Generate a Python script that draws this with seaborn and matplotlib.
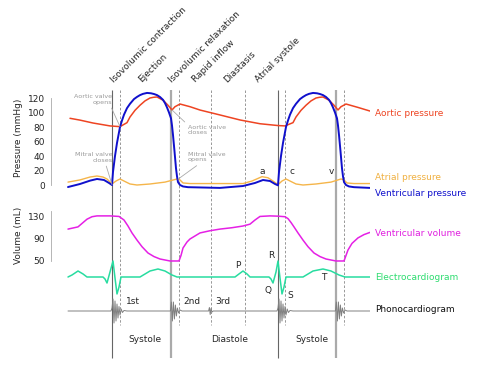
import matplotlib
matplotlib.use("Agg")
import matplotlib.pyplot as plt
import seaborn as sns

# ---- data (time in ms, one heart cycle ~830 ms) ----
aortic_t = [10, 60, 125, 210, 260, 295, 310, 335, 360, 385, 410, 428, 445, 475,
            500, 520, 535, 560, 610, 660, 760, 860, 960, 1050, 1085, 1125, 1140,
            1165, 1190, 1215, 1240, 1258, 1275, 1305, 1330, 1350, 1365, 1390, 1450, 1510]
aortic_p = [92, 89.5, 85.5, 81.5, 80.5, 86, 93.8, 103, 110, 116, 120, 121, 121.4, 117,
            110, 103.5, 108, 111.7, 108, 103.4, 96.6, 89.7, 84.5, 82, 81.5, 86, 93.8,
            103, 110, 116, 120, 121, 121.4, 117, 110, 103.5, 108, 111.7, 107, 102]

ventr_t = [0, 60, 110, 145, 180, 205, 220, 225, 235, 245, 260, 270, 280, 295, 310,
           330, 345, 360, 375, 395, 415, 430, 445, 460, 475, 485, 495, 505, 515, 520,
           525, 532, 540, 545, 550, 560, 575, 600, 760, 875, 935, 975, 1010, 1035, 1050,
           1055, 1065, 1075, 1090, 1100, 1110, 1125, 1140, 1160, 1175, 1190, 1205, 1225,
           1245, 1260, 1275, 1290, 1305, 1315, 1325, 1335, 1345, 1350, 1355, 1362, 1370,
           1375, 1380, 1390, 1405, 1430, 1510]
ventr_p = [-2.8, 1.4, 6, 8.3, 6.9, 2.8, 0, 18, 40, 58, 80, 89, 97, 106, 112,
           118.5, 121.5, 124, 125.7, 127, 126.5, 125.5, 124, 121.4, 117.5, 113, 107, 100, 92, 82,
           69, 48, 23, 12, 4, 0, -2, -3, -4, -1.4, 2.8, 6.9, 5.5, 1.4, -0.5,
           18, 40, 58, 80, 89, 97, 106, 112, 118.5, 121.5, 124, 125.7, 127,
           126.5, 125.5, 124, 121.4, 117.5, 113, 107, 100, 92, 82, 69, 48, 23,
           12, 4, 0, -2, -3, -4]

atrial_t = [0, 60, 110, 145, 175, 195, 220, 240, 260, 280, 310, 345, 410, 485, 545,
            560, 575, 610, 875, 920, 970, 1000, 1025, 1050, 1070, 1090, 1110, 1140,
            1175, 1240, 1315, 1365, 1380, 1395, 1430, 1510]
atrial_p = [4, 7, 11, 12.4, 11, 8.3, 1.4, 5.5, 8.3, 5.5, 1.4, 0, 1.4, 4, 8.3,
            7, 2.8, 2, 2, 5.5, 11.5, 10, 5.5, 0.5, 5.5, 8.3, 5.5, 1.4,
            0, 1.4, 4, 8.3, 7, 2.8, 2, 2]

volume_t = [0, 50, 95, 120, 145, 210, 255, 280, 300, 320, 345, 370, 400, 430, 460,
            510, 555, 565, 575, 595, 610, 660, 710, 760, 820, 875, 910, 935, 960, 1010,
            1050, 1085, 1100, 1115, 1130, 1150, 1175, 1200, 1230, 1260, 1290, 1340, 1380,
            1390, 1400, 1420, 1450, 1480, 1510]
volume_ml = [108, 112, 126, 130.5, 132, 132, 131, 124.5, 113.6, 101, 88, 76, 64.5, 58, 53.6,
             50, 50, 60, 73.6, 84.5, 90, 101, 105, 108, 110.5, 113.6, 117, 124.5, 131, 132,
             131.5, 130.5, 127, 120, 112, 101, 88, 76, 64.5, 58, 53.6, 50, 50,
             60, 70, 82, 92, 98, 102]

ecg_t = [0, 20, 50, 75, 95, 175, 185, 195, 210, 225, 235, 245, 255, 265, 360, 410,
         450, 485, 520, 545, 835, 855, 875, 895, 910, 1005, 1015, 1025, 1040, 1050,
         1060, 1070, 1080, 1090, 1175, 1225, 1275, 1315, 1355, 1385, 1510]
ecg_mv = [0, 0.125, 0.375, 0.19, 0, 0, -0.125, -0.375, 0.31, 1.0, -0.06, -1.06, -0.625, 0, 0, 0.375,
          0.5, 0.375, 0.125, 0, 0, 0.19, 0.375, 0.19, 0, 0, -0.125, -0.375, 0.31, 1.0,
          -0.06, -1.06, -0.625, 0, 0, 0.375, 0.5, 0.375, 0.125, 0, 0]

phono_t = [0, 215, 220, 225, 230, 235, 240, 245, 250, 255, 260, 266, 272, 280, 295,
           512, 517, 522, 527, 532, 537, 542, 547, 553, 560, 570,
           703, 707, 711, 715, 720, 726,
           1045, 1050, 1055, 1060, 1065, 1070, 1075, 1080, 1085, 1090, 1096, 1102, 1110, 1125,
           1337, 1342, 1347, 1352, 1357, 1362, 1367, 1372, 1378, 1385, 1395, 1510]
phono_a = [0, 0, 0.3, 1.2, -1.2, 1.0, -1.0, 0.7, -0.7, 0.45, -0.4, 0.2, -0.15, 0.05, 0,
           0, 0.9, -1.0, 0.9, -0.8, 0.6, -0.5, 0.3, -0.2, 0.1, 0,
           0, 0.35, -0.35, 0.25, -0.1, 0,
           0, 0.3, 1.2, -1.2, 1.0, -1.0, 0.7, -0.7, 0.45, -0.4, 0.2, -0.15, 0.05, 0,
           0, 0.9, -1.0, 0.9, -0.8, 0.6, -0.5, 0.3, -0.2, 0.1, 0, 0]

solid_events = [220, 515, 1050, 1340]
dashed_events = [260, 555, 715, 885, 1085, 1380]
phases = ["Isovolumic contraction", "Ejection", "Isovolumic relaxation",
          "Rapid inflow", "Diastasis", "Atrial systole"]
phase_t = [235, 378, 528, 643, 803, 958]

# ---- layout ----
sns.set_style("white")
plt.rcParams["font.family"] = ["DejaVu Sans"]
W, H = 480, 368
x0, x1 = 51, 370
tlim = (-85, 1510)
fs = 6.5

fig = plt.figure(figsize=(4.8, 3.68), dpi=100)

def box(ytop, ybot):
    return [x0 / W, 1 - ybot / H, (x1 - x0) / W, (ybot - ytop) / H]

ax_bg = fig.add_axes([x0 / W, 0, (x1 - x0) / W, 1], zorder=0)
ax_bg.set_xlim(tlim)
ax_bg.set_ylim(H, 0)
ax_bg.axis("off")

ax_p = fig.add_axes(box(80, 195), zorder=2)
ax_v = fig.add_axes(box(200, 270), zorder=2)
ax_e = fig.add_axes(box(250, 300), zorder=2)
ax_s = fig.add_axes(box(290, 332), zorder=2)
for a in (ax_p, ax_v, ax_e, ax_s):
    a.set_xlim(tlim)
    a.patch.set_visible(False)
    a.set_xticks([])
    for s in ("top", "right", "bottom"):
        a.spines[s].set_visible(False)
for a in (ax_e, ax_s):
    a.spines["left"].set_visible(False)
    a.set_yticks([])

ax_p.set_ylim(-13.79, 144.83)
ax_v.set_ylim(33.6, 160.9)
ax_e.set_ylim(-1.4375, 1.6875)
ax_s.set_ylim(-2.1, 2.1)

# event lines
ax_bg.vlines(solid_events[:1] + solid_events[2:3], 90, 358, color="#666666", lw=0.8)
ax_bg.vlines(solid_events[1:2] + solid_events[3:], 90, 358, color="#aaaaaa", lw=1.6)
ax_bg.vlines(dashed_events, 90, 325, color="#888888", lw=0.6, linestyles=(0, (3, 2.2)))

# curves
kw = dict(estimator=None, sort=False, legend=False)
sns.lineplot(x=aortic_t, y=aortic_p, ax=ax_p, color="#ee4422", lw=1.1, **kw)
sns.lineplot(x=atrial_t, y=atrial_p, ax=ax_p, color="#f5b54a", lw=1.0, **kw)
sns.lineplot(x=ventr_t, y=ventr_p, ax=ax_p, color="#1010cc", lw=1.4, **kw)
sns.lineplot(x=volume_t, y=volume_ml, ax=ax_v, color="#e520e5", lw=1.1, **kw)
sns.lineplot(x=ecg_t, y=ecg_mv, ax=ax_e, color="#28dca0", lw=1.1, **kw)
sns.lineplot(x=phono_t, y=phono_a, ax=ax_s, color="#808080", lw=0.7, **kw)
for a in (ax_p, ax_v, ax_e, ax_s):
    a.set_xlabel("")

# axes
for a, ticks, bounds, lab in ((ax_p, range(0, 121, 20), (0, 120), "Pressure (mmHg)"),
                              (ax_v, [50, 90, 130], (50, 140), "Volume (mL)")):
    a.set_yticks(list(ticks))
    a.spines["left"].set_bounds(*bounds)
    a.spines["left"].set_color("#aaaaaa")
    a.spines["left"].set_linewidth(0.6)
    a.tick_params(axis="y", length=3, width=0.6, color="#aaaaaa", labelsize=fs, pad=1.5)
    a.set_ylabel(lab, fontsize=fs, labelpad=3)

# phase labels
for t, lab in zip(phase_t, phases):
    ax_bg.text(t, 84, lab, rotation=45, rotation_mode="anchor", ha="left",
               va="bottom", fontsize=fs)

# right-hand labels
for y, lab, c in ((113, "Aortic pressure", "#ee4422"), (178, "Atrial pressure", "#f0b040"),
                  (193, "Ventricular pressure", "#1010cc"), (233, "Ventricular volume", "#e020e0"),
                  (277, "Electrocardiogram", "#2edc70"), (310, "Phonocardiogram", "#111111")):
    ax_bg.text(1535, y, lab, color=c, fontsize=fs, va="center", ha="left")

# bottom labels
for t, lab in ((385, "Systole"), (810, "Diastole"), (1220, "Systole")):
    ax_bg.text(t, 340, lab, ha="center", va="center", fontsize=fs)
for t, lab in ((290, "1st"), (575, "2nd"), (735, "3rd")):
    ax_bg.text(t, 301, lab, ha="left", va="center", fontsize=fs)

# wave letters
for t, y, lab in ((970, 171, "a"), (1120, 171, "c"), (1315, 172, "v"),
                  (850, 265, "P"), (1000, 290, "Q"), (1015, 255, "R"),
                  (1110, 295, "S"), (1280, 278, "T")):
    ax_bg.text(t, y, lab, ha="center", va="center", fontsize=fs)

# valve annotations
gray = dict(fontsize=4.6, color="#999999", va="center")
def arrow(rp):
    return dict(arrowstyle="-", color="#aaaaaa", lw=0.6, relpos=rp, shrinkA=0, shrinkB=0)
ax_p.annotate("Aortic valve\nopens", xy=(260, 80.5), xytext=(220, 118), ha="right",
              multialignment="right", arrowprops=arrow((0.95, 0)), **gray)
ax_p.annotate("Mitral valve\ncloses", xy=(220, 0.5), xytext=(224, 38), ha="right",
              multialignment="right", arrowprops=arrow((0.8, 0)), **gray)
ax_p.annotate("Aortic valve\ncloses", xy=(520, 103.5), xytext=(600, 76), ha="left",
              arrowprops=arrow((0, 0.95)), **gray)
ax_p.annotate("Mitral valve\nopens", xy=(550, 8), xytext=(600, 38.6), ha="left",
              arrowprops=arrow((0.35, 0)), **gray)

fig.savefig("out.png", dpi=100)
